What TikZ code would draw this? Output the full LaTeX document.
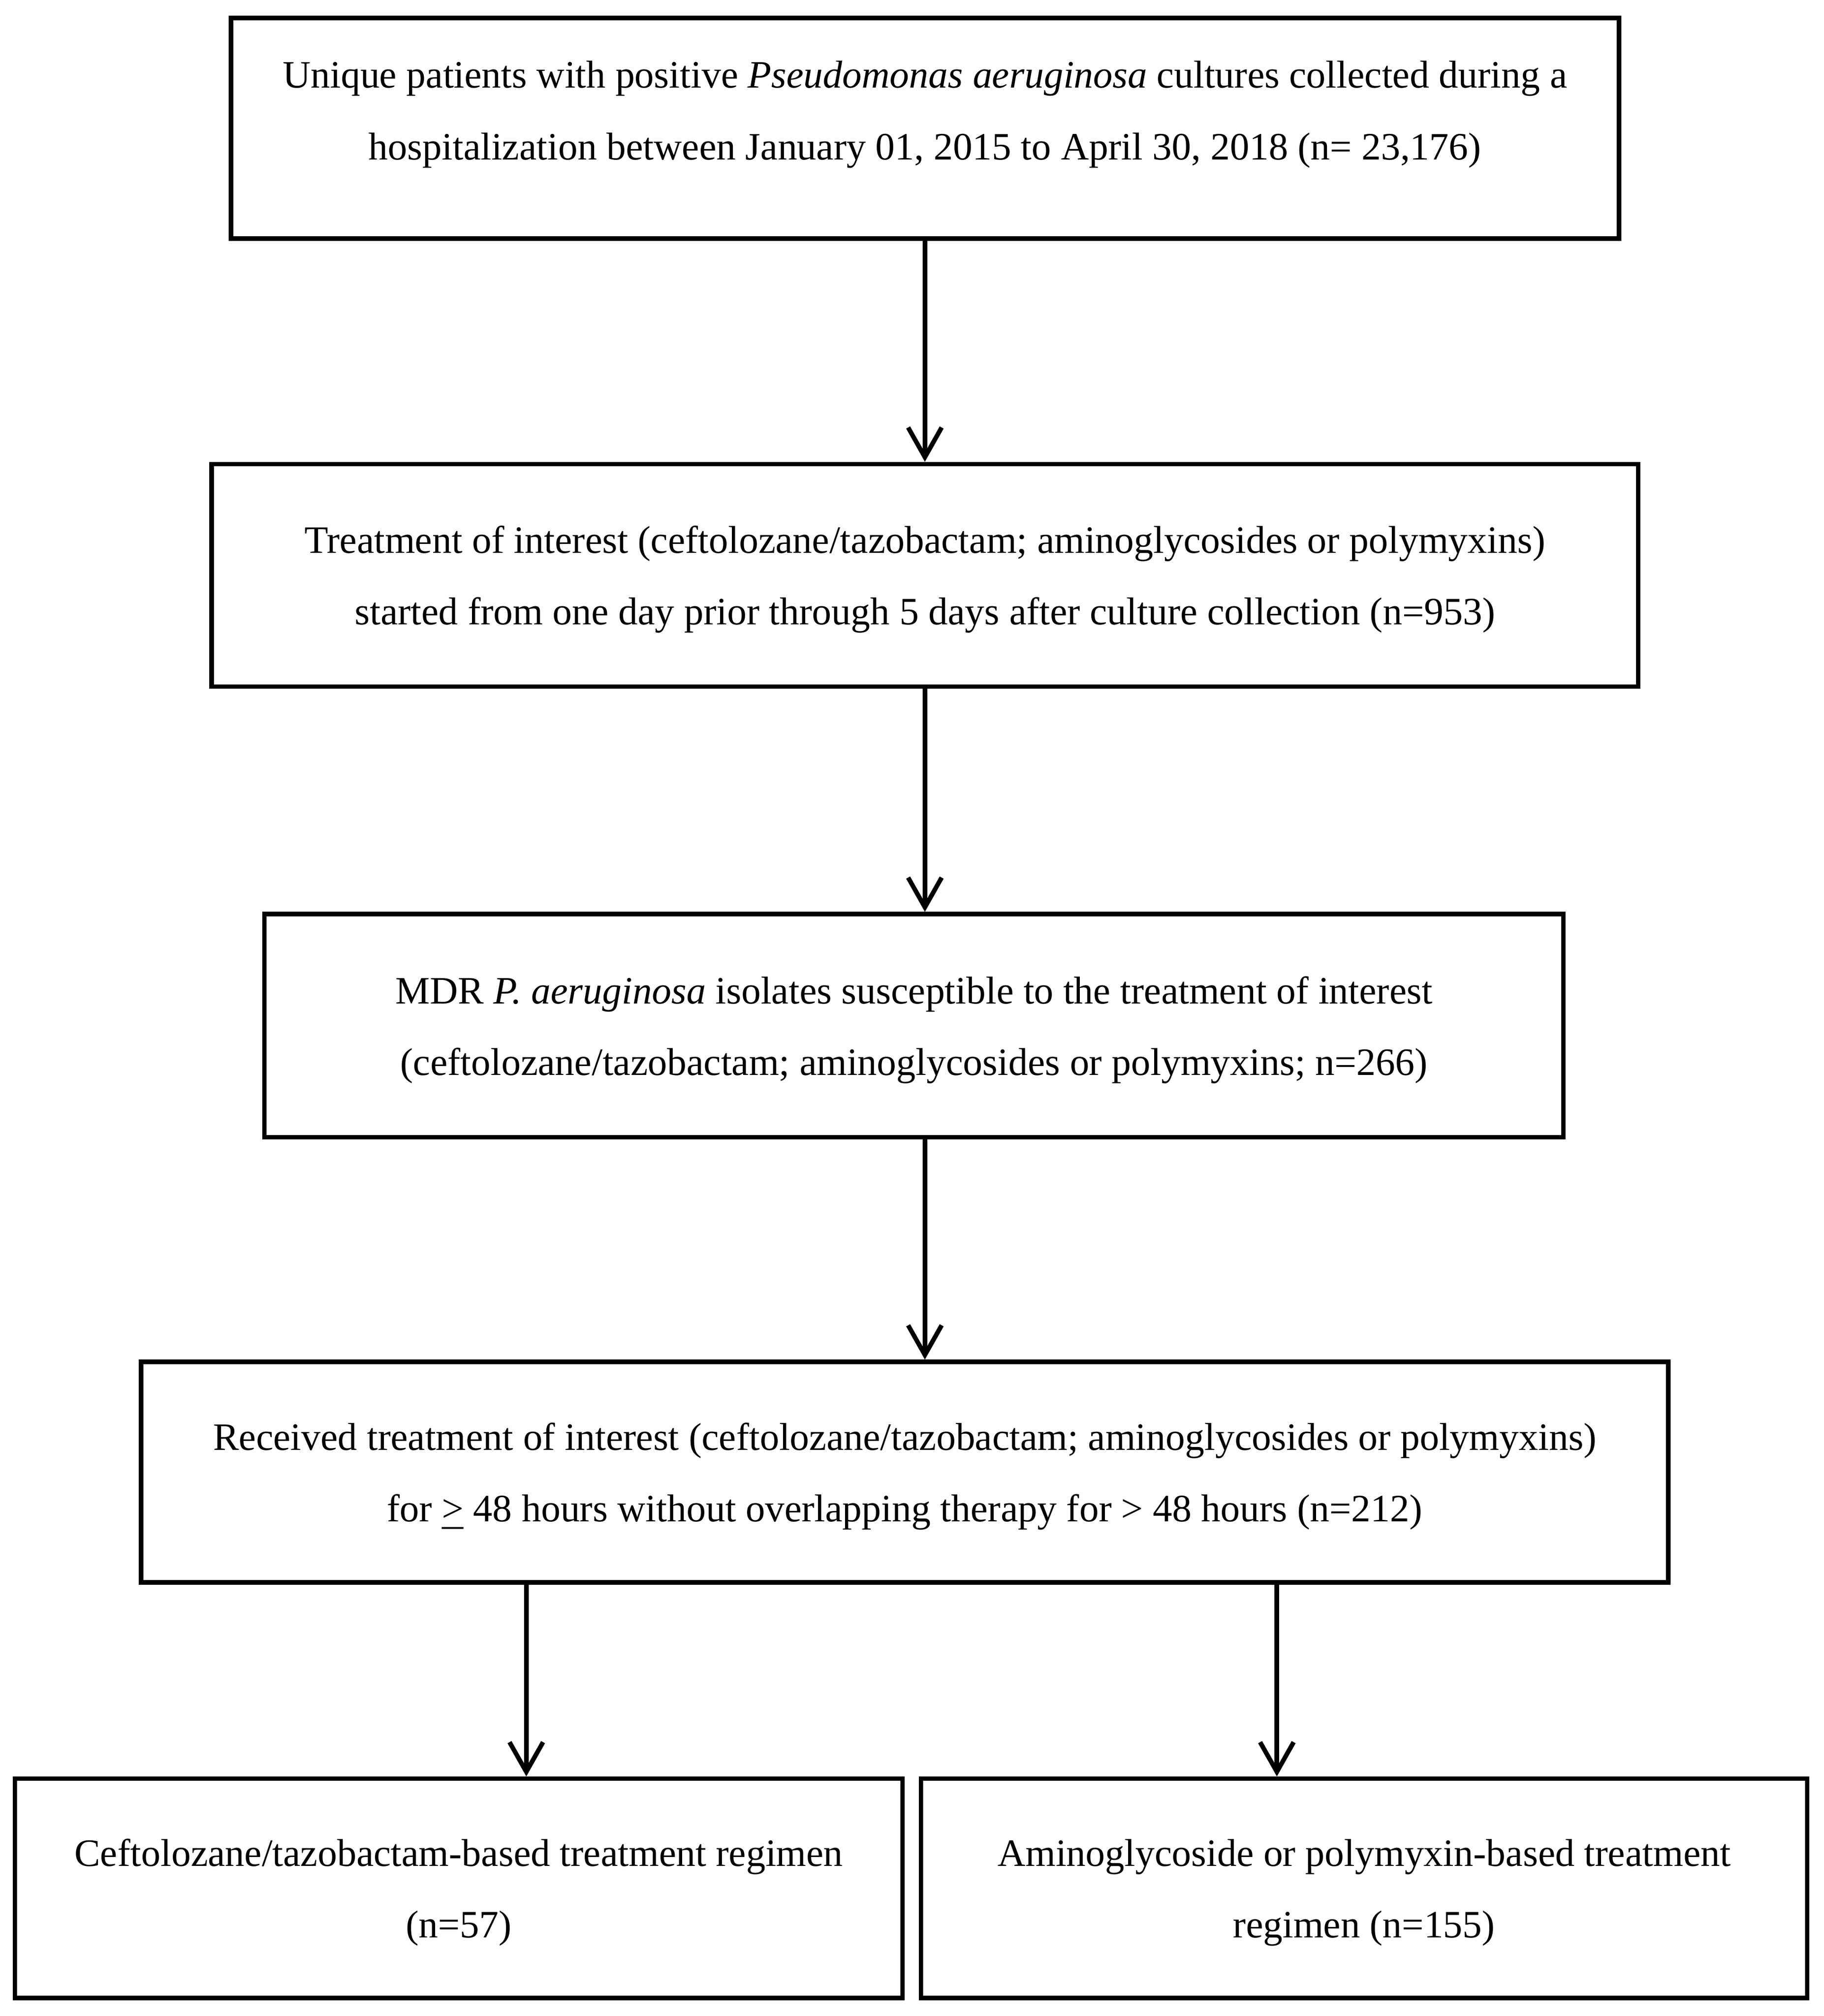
\documentclass[tikz,border=0pt]{standalone}
\usepackage{fontspec}
\setmainfont{Liberation Serif}
\usetikzlibrary{arrows.meta,calc}
\begin{document}
\begin{tikzpicture}[font=\fontsize{8.55}{15.8}\selectfont, line join=miter, >={Straight Barb[length=2.3mm,width=2.6mm]}]
			\tikzset{s/.style={draw=black,line width=1pt,rectangle,align=center,inner sep=0pt,minimum height=1.71cm,text depth=-0.04cm}}
			\useasboundingbox(0,0)rectangle(14.14,-15.63);
			\path(7.17,-0.995)node[s,minimum width=10.76cm,text depth=0.28cm](A1){Unique patients with positive \textit{Pseudomonas aeruginosa} cultures collected during a\\hospitalization between January 01, 2015 to April 30, 2018 (n= 23,176)};
			\path(7.17,-4.46)node[s,minimum width=11.06cm,minimum height=1.725cm](A2){Treatment of interest (ceftolozane/tazobactam; aminoglycosides or polymyxins)\\started from one day prior through 5 days after culture collection (n=953)};
			\path(7.085,-7.952)node[s,minimum width=10.07cm,minimum height=1.73cm](A3){MDR \textit{P. aeruginosa} isolates susceptible to the treatment of interest\\(ceftolozane/tazobactam; aminoglycosides or polymyxins; n=266)};
			\path(7.013,-11.413)node[s,minimum width=11.84cm](A4){Received treatment of interest (ceftolozane/tazobactam; aminoglycosides or polymyxins)\\for \underline{>} 48 hours without overlapping therapy for > 48 hours (n=212)};
			\path(3.556,-14.64)node[s,minimum width=6.88cm,minimum height=1.70cm](B1){Ceftolozane/tazobactam-based treatment regimen\\(n=57)};
			\path(10.575,-14.64)node[s,minimum width=6.87cm,minimum height=1.70cm](B2){Aminoglycoside or polymyxin-based treatment\\regimen (n=155)};
			\foreach \x/\y in {
				A1/A2,
				A2/A3,
				A3/A4}
			\draw[->,line width=1pt](A2.south|-\x.south)--(A2.south|-\y.north);
			\draw[->,line width=1pt]($(A4.south west)!0.253!(A4.south east)$)coordinate(b1)--(b1|-B1.north);
			\draw[->,line width=1pt]($(A4.south west)!0.743!(A4.south east)$)coordinate(b2)--(b2|-B2.north);
		\end{tikzpicture}
\end{document}
